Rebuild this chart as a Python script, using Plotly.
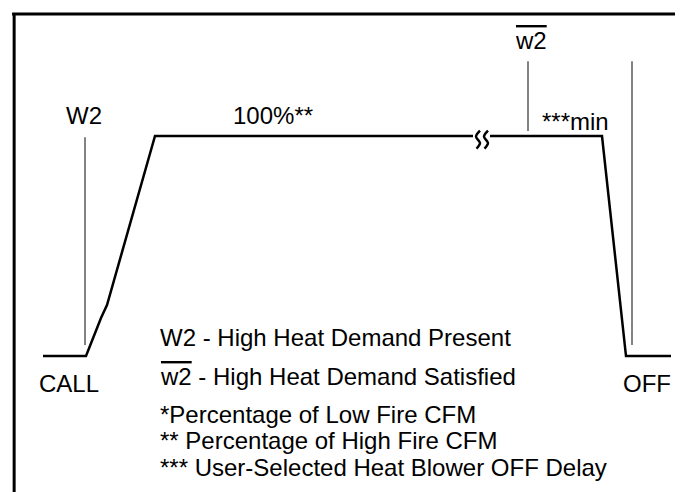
import plotly.graph_objects as go

# blower speed profile (x = time units, y = % airflow, 100 = high fire)
ramp_t = [35, 78, 93, 99, 147, 465]
ramp_v = [0, 0, 17.3, 23.2, 100, 100]
drop_t = [482, 594, 618, 663]
drop_v = [100, 100, 0, 0]

# thin grey event markers: (x, y_start, y_end)
marker_x = [77, 520, 624]
marker_y0 = [5, 102.3, 5]
marker_y1 = [99.5, 134, 134]

# break symbol (two squiggles on the plateau)
squig_dx = [2.0, -2.0, 2.0, -1.5]
squig_v = [102.5, 99.8, 96.8, 94.3]
squig_centres = [470, 478]

labels = ["W2", "100%**", "<span style='text-decoration:overline'>w2</span>",
          "***min", "CALL", "OFF"]
label_t = [76, 265, 523, 567, 61, 639]
label_v = [109.5, 109.5, 143.6, 106.8, -12.3, -12.3]

legend_lines = [
    "W2 - High Heat Demand Present",
    "<span style='text-decoration:overline'>w2</span> - High Heat Demand Satisfied",
    "*Percentage of Low Fire CFM",
    "** Percentage of High Fire CFM",
    "*** User-Selected Heat Blower OFF Delay",
]
legend_v = [8.6, -9.5, -26.4, -38.6, -50.9]

FONT = "Liberation Sans, Arial, sans-serif"

fig = go.Figure()

for x, y0, y1 in zip(marker_x, marker_y0, marker_y1):
    fig.add_trace(go.Scatter(x=[x, x], y=[y0, y1], mode="lines",
                             line=dict(color="#5a5a5a", width=1.5),
                             hoverinfo="skip", showlegend=False))

fig.add_trace(go.Scatter(x=ramp_t, y=ramp_v, mode="lines",
                         line=dict(color="black", width=2.5),
                         hoverinfo="skip", showlegend=False))
fig.add_trace(go.Scatter(x=drop_t, y=drop_v, mode="lines",
                         line=dict(color="black", width=2.5),
                         hoverinfo="skip", showlegend=False))

for c in squig_centres:
    fig.add_trace(go.Scatter(x=[c + d for d in squig_dx], y=squig_v, mode="lines",
                             line=dict(color="black", width=2.5, shape="spline"),
                             hoverinfo="skip", showlegend=False))

for txt, x, y in zip(labels, label_t, label_v):
    fig.add_annotation(x=x, y=y, text=txt, showarrow=False,
                       xanchor="center", yanchor="middle",
                       font=dict(family=FONT, size=24, color="black"))

for txt, y in zip(legend_lines, legend_v):
    fig.add_annotation(x=150, y=y, text=txt, showarrow=False,
                       xanchor="left", yanchor="middle",
                       font=dict(family=FONT, size=24, color="black"))

# frame
fig.add_shape(type="line", xref="paper", yref="paper", x0=0.006, x1=1, y0=0.988, y1=0.988,
              line=dict(color="black", width=3))
fig.add_shape(type="line", xref="paper", yref="paper", x0=0.009, x1=0.009, y0=0.002, y1=0.99,
              line=dict(color="black", width=3))
fig.add_shape(type="line", xref="paper", yref="paper", x0=0.006, x1=1, y0=0.002, y1=0.002,
              line=dict(color="#bdbdbd", width=2))

fig.update_xaxes(range=[0, 683], visible=False, fixedrange=True)
fig.update_yaxes(range=[-65.45, 158.2], visible=False, fixedrange=True)
fig.update_layout(width=683, height=492, margin=dict(l=0, r=0, t=0, b=0),
                  plot_bgcolor="white", paper_bgcolor="white")

fig.write_html("out.html")
